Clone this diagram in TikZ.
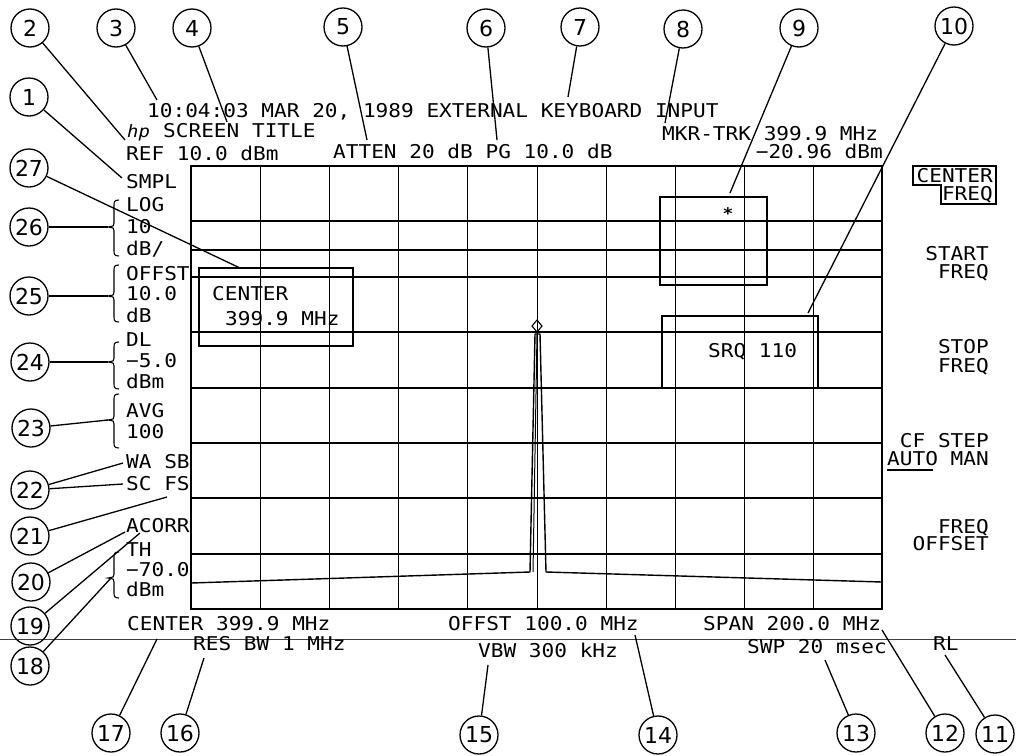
\documentclass[tikz,border=0pt]{standalone}
\usepackage{fontspec}
\newfontfamily\plt[FakeStretch=1.11]{DejaVu Sans Mono}
\newfontfamily\numf{DejaVu Sans}
\newcommand\mybrace[3]{%
  \draw[bracel] (119,#1) .. controls (114,#1) and (114,{#1+2}) .. (114,{#1+6}) -- (114,{#2-4})
    .. controls (114,{#2-1}) .. (108,#2) .. controls (114,{#2+1}) .. (114,{#2+4}) -- (114,{#3-6})
    .. controls (114,{#3-2}) and (114,#3) .. (119,#3);}
\begin{document}
\begin{tikzpicture}[x=1pt,y=-1pt,
  txt/.style={font=\plt\fontsize{19}{19}\selectfont, inner sep=0pt, anchor=base west},
  txtr/.style={txt, anchor=base east},
  callout/.style={circle, draw, line width=1.3pt, minimum size=38pt, inner sep=0pt, font=\numf\fontsize{22}{22}\selectfont},
  lead/.style={line width=1.3pt},
  hgrid/.style={line width=1.6pt},
  vgrid/.style={line width=1pt},
  boxline/.style={line width=1.7pt},
  bracel/.style={line width=1.1pt},
]
\useasboundingbox (0,0) rectangle (1016,755);

% graticule
\foreach \xx in {260,329,398,467,537,606,675,744,813} \draw[vgrid] (\xx,166) -- (\xx,609);
\foreach \yy in {221,250,277,332,388,443,498,554} \draw[hgrid] (191,\yy) -- (882,\yy);
\draw[line width=1.8pt] (191,166) rectangle (882,609);

% bottom separator line
\draw[black!75, line width=1pt] (0,639) -- (1016,639);

% trace
\draw[line width=1.4pt, line join=round] (191,583) -- (530,572) -- (535,334) -- (540,334) -- (546,572) -- (882,582);
\draw[line width=1pt] (533,572) -- (537,334);
\draw[line width=1.1pt] (537,320) -- (542,326) -- (537,332) -- (532,326) -- cycle;

% header texts
\node[txt] (date) at (147,117) {10:04:03 MAR 20, 1989 EXTERNAL KEYBOARD INPUT};
\node[txt, font=\plt\itshape\fontsize{17}{17}\selectfont] (hp) at (127,137) {hp};
\node[txt] (title) at (163,137) {SCREEN TITLE};
\node[txt] (ref) at (126,160) {REF 10.0 dBm};
\node[txt] (atten) at (333,158) {ATTEN 20 dB PG 10.0 dB};
\node[txt] (mkr) at (662,140) {MKR-TRK 399.9 MHz};
\node[txtr] (mkrv) at (883,158) {−20.96 dBm};

% left column
\node[txt] (smpl) at (126,188) {SMPL};
\node[txt] (log) at (126,211) {LOG};
\node[txt] (ten) at (126,233) {10};
\node[txt] (dbdiv) at (126,255) {dB/};
\node[txt] (offst) at (126,280) {OFFST};
\node[txt] (offv) at (126,300) {10.0};
\node[txt] (offu) at (126,322) {dB};
\node[txt] (dl) at (126,346) {DL};
\node[txt] (dlv) at (126,367) {−5.0};
\node[txt] (dlu) at (126,388) {dBm};
\node[txt] (avg) at (126,417) {AVG};
\node[txt] (avgv) at (126,438) {100};
\node[txt] (wasb) at (126,468) {WA SB};
\node[txt] (scfs) at (126,490) {SC FS};
\node[txt] (acorr) at (126,532) {ACORR};
\node[txt] (th) at (126,556) {TH};
\node[txt] (thv) at (126,576) {−70.0};
\node[txt] (thu) at (126,596) {dBm};

\mybrace{200}{227}{256}
\mybrace{265}{296}{322}
\mybrace{342}{362}{389}
\mybrace{394}{420}{448}
\mybrace{552}{578}{598}

% bottom texts
\node[txt] (center) at (127,630) {CENTER 399.9 MHz};
\node[txt] (resbw) at (193,650) {RES BW 1 MHz};
\node[txt] (offbot) at (448,630) {OFFST 100.0 MHz};
\node[txt] (vbw) at (478,657) {VBW 300 kHz};
\node[txt] (span) at (703,630) {SPAN 200.0 MHz};
\node[txt] (swp) at (747,653) {SWP 20 msec};
\node[txt] (rl) at (933,650) {RL};

% softkeys
\node[txtr] (sk1a) at (993,182) {CENTER};
\node[txtr] (sk1b) at (993,200) {FREQ};
\draw[line width=1.3pt] (913,166) -- (996,166) -- (996,204) -- (941,204) -- (941,185) -- (913,185) -- cycle;
\node[txtr] (sk2a) at (989,260) {START};
\node[txtr] (sk2b) at (989,278) {FREQ};
\node[txtr] (sk3a) at (989,353) {STOP};
\node[txtr] (sk3b) at (989,372) {FREQ};
\node[txtr] (sk4a) at (989,447) {CF STEP};
\node[txtr] (sk4b) at (989,465) {AUTO MAN};
\draw[line width=1.2pt] ([yshift=-5pt]sk4b.base west) -- ++(46,0);
\node[txtr] (sk5a) at (989,533) {FREQ};
\node[txtr] (sk5b) at (989,550) {OFFSET};

% annotation boxes
\draw[boxline] (199,268) rectangle (353,346);
\node[txt] (bxc) at (212,300) {CENTER};
\node[txt] (bxf) at (225,325) {399.9 MHz};
\draw[boxline] (660,197) rectangle (767,285);
\node[inner sep=0pt, font=\plt\bfseries\fontsize{16}{16}\selectfont] (star) at (728,214) {*};
\draw[boxline] (662,316) rectangle (818,388);
\node[txt] (srq) at (708,357) {SRQ 110};

% callout circles
\node[callout] (c1) at (29,97) {1};
\node[callout] (c2) at (30,28) {2};
\node[callout] (c3) at (116,28) {3};
\node[callout] (c4) at (192,28) {4};
\node[callout] (c5) at (343,27) {5};
\node[callout] (c6) at (486,28) {6};
\node[callout] (c7) at (580,27) {7};
\node[callout] (c8) at (683,29) {8};
\node[callout] (c9) at (799,28) {9};
\node[callout] (c10) at (954,26) {10};
\node[callout] (c11) at (995,734) {11};
\node[callout] (c12) at (945,733) {12};
\node[callout] (c13) at (856,733) {13};
\node[callout] (c14) at (658,735) {14};
\node[callout] (c15) at (479,735) {15};
\node[callout] (c16) at (180,733) {16};
\node[callout] (c17) at (111,733) {17};
\node[callout] (c18) at (30,666) {18};
\node[callout] (c19) at (30,626) {19};
\node[callout] (c20) at (31,582) {20};
\node[callout] (c21) at (30,536) {21};
\node[callout] (c22) at (30,490) {22};
\node[callout] (c23) at (31,428) {23};
\node[callout] (c24) at (30,362) {24};
\node[callout] (c25) at (29,296) {25};
\node[callout] (c26) at (29,227) {26};
\node[callout] (c27) at (29,168) {27};

% leader targets
\coordinate (t1) at (122,178);
\coordinate (t2) at (125,140);
\coordinate (t3) at (157,100);
\coordinate (t4) at (227,122);
\coordinate (t5) at (367,140);
\coordinate (t6) at (497,140);
\coordinate (t7) at (568,97);
\coordinate (t8) at (665,123);
\coordinate (t9) at (730,193);
\coordinate (t10) at (808,313);
\coordinate (t11) at (945,655);
\coordinate (t12) at (882,630);
\coordinate (t13) at (825,660);
\coordinate (t14) at (635,635);
\coordinate (t15) at (488,665);
\coordinate (t16) at (204,658);
\coordinate (t17) at (157,639);
\coordinate (t18) at (111,578);
\coordinate (t19) at (140,533);
\coordinate (t20) at (125,532);
\coordinate (t21) at (167,497);
\coordinate (t22a) at (123,463);
\coordinate (t22b) at (123,484);
\coordinate (t23) at (108,420);
\coordinate (t24) at (108,362);
\coordinate (t25) at (108,296);
\coordinate (t26) at (108,227);
\coordinate (t27) at (240,268);

% leaders
\foreach \k in {1,...,21,23,24,25,26,27} \draw[lead] (c\k) -- (t\k);
\draw[lead] (c22) -- (t22a);
\draw[lead] (c22) -- (t22b);
\end{tikzpicture}
\end{document}
